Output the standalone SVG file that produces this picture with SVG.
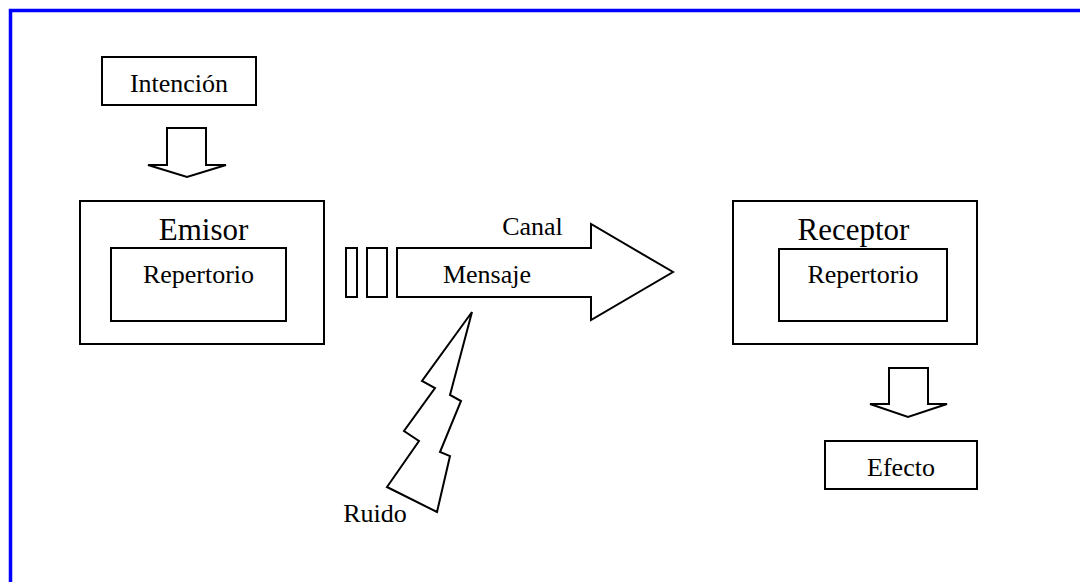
<svg xmlns="http://www.w3.org/2000/svg" width="1080" height="582" viewBox="0 0 1080 582">
<style>
.s{fill:#fff;stroke:#000;stroke-width:2;stroke-linejoin:miter}
.t{font-family:"Liberation Serif","Times New Roman",serif;font-size:26px;fill:#000;text-anchor:middle}
.b{font-size:31px}
</style>
<rect x="0" y="0" width="1080" height="582" fill="#fff"/>
<rect x="10.5" y="10.5" width="1100" height="600" fill="none" stroke="#0000ff" stroke-width="3.5"/>
<g id="intencion">
<rect class="s" x="102" y="57" width="154" height="48"/>
<text class="t" x="179" y="92">Intención</text>
</g>
<g id="emisor">
<rect class="s" x="80" y="201" width="244" height="143"/>
<text class="t b" x="203.5" y="240">Emisor</text>
<rect class="s" x="111" y="248" width="175" height="73"/>
<text class="t" x="198.5" y="283">Repertorio</text>
</g>
<g id="receptor">
<rect class="s" x="733" y="201" width="244" height="143"/>
<text class="t b" x="853.5" y="240">Receptor</text>
<rect class="s" x="779" y="249" width="168" height="72"/>
<text class="t" x="863" y="283">Repertorio</text>
</g>
<g id="efecto">
<rect class="s" x="825" y="441" width="152" height="48"/>
<text class="t" x="901" y="476">Efecto</text>
</g>
<g id="canal">
<rect class="s" x="346" y="248" width="11" height="49"/>
<rect class="s" x="367" y="248" width="20" height="49"/>
<polygon class="s" points="397,248 591,248 591,224 673,272 591,320 591,297 397,297"/>
<text class="t" x="532.5" y="235">Canal</text>
<text class="t" x="487" y="283">Mensaje</text>
</g>
<g id="ruido">
<polygon class="s" points="472,312 422,381 435,388 404,431 419,441 387,487 437,512 450,456 440,452 461,401 450,395"/>
<text class="t" x="375" y="522">Ruido</text>
</g>
<g id="connectors">
<polygon class="s" points="167,128 206,128 206,165 226,165 187,177 148,165 167,165"/>
<polygon class="s" points="889,368 928,368 928,404 947,404 908,417 870,404 889,404"/>
</g>
</svg>
